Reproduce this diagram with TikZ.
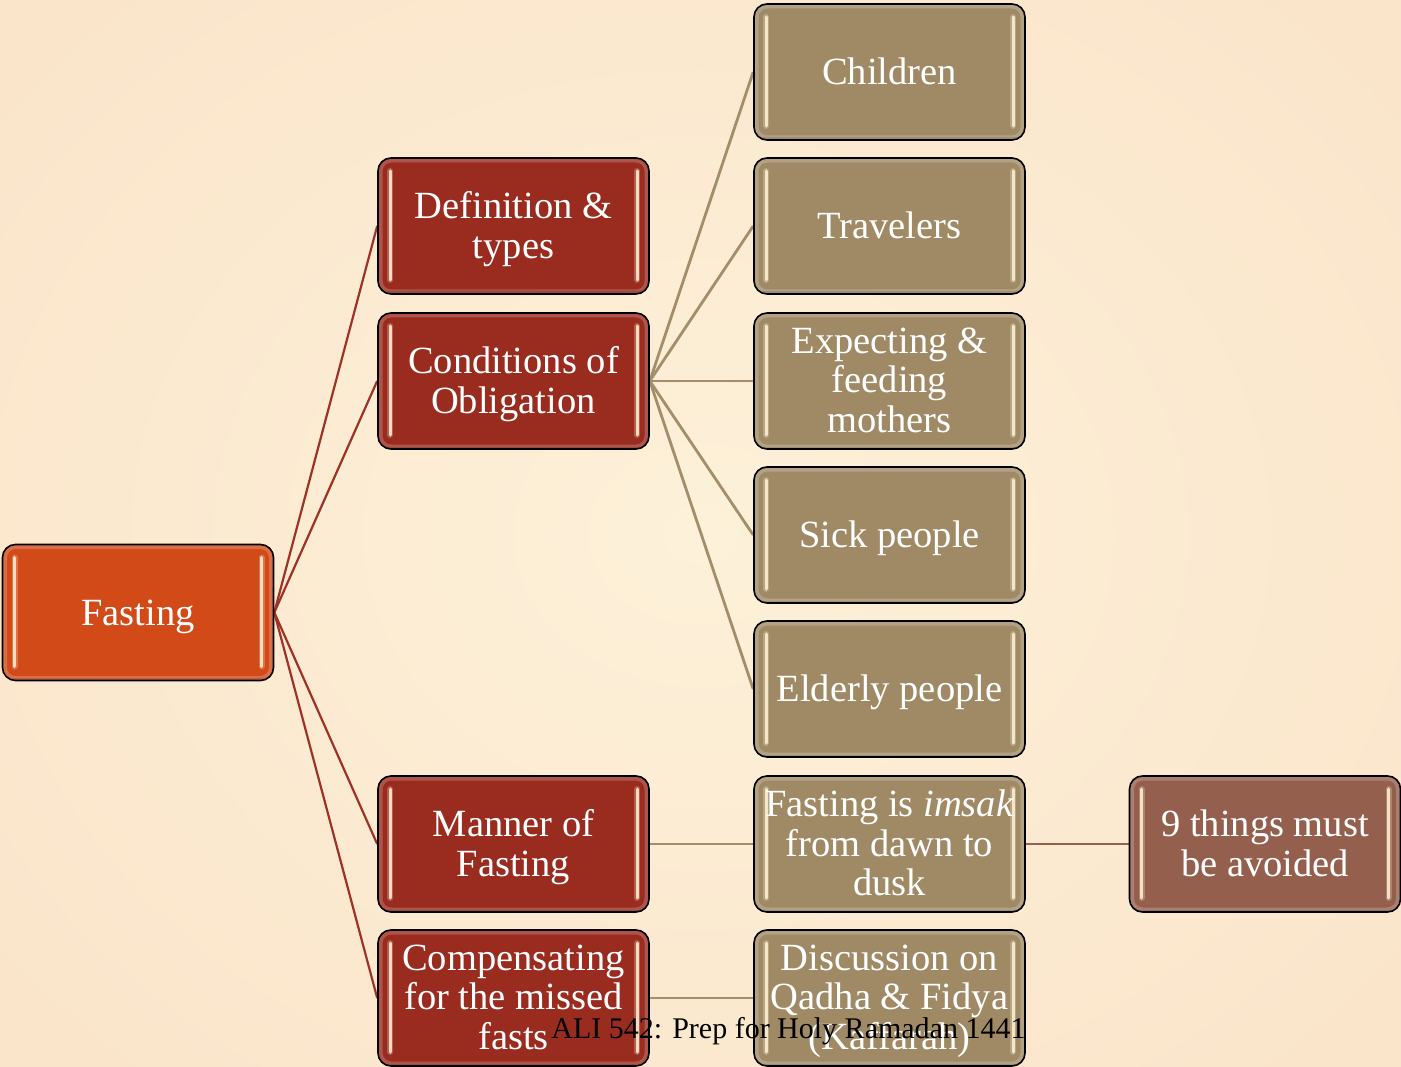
\documentclass[tikz,border=0pt]{standalone}
\usepackage{fontspec}
\setmainfont{Liberation Serif}
\usetikzlibrary{calc}

\definecolor{bgmid}{HTML}{FDF1D9}
\definecolor{bgedge}{HTML}{FAE5CA}
\definecolor{rootfill}{HTML}{D14A18}
\definecolor{redfill}{HTML}{9A2B1F}
\definecolor{tanfill}{HTML}{A08A66}
\definecolor{brownfill}{HTML}{955F4E}
\definecolor{redline}{HTML}{9E3225}
\definecolor{tanline}{HTML}{A48E6A}
\definecolor{brownline}{HTML}{97604F}
\definecolor{gloss}{HTML}{FFF3D6}

\pgfdeclarelayer{backdrop}
\pgfdeclarelayer{links}
\pgfsetlayers{backdrop,links,main}

\tikzset{
  card/.style={draw=black, line width=1.6pt, rounded corners=13pt,
    minimum width=271pt, minimum height=136pt, inner sep=0pt,
    path picture={
      % soft light rim along the inside of the border
      \draw[white, opacity=0.2, line width=9pt, rounded corners=13pt]
        (path picture bounding box.north west) rectangle (path picture bounding box.south east);
      \draw[black, opacity=0.12, line width=5pt]
        (path picture bounding box.south west) -- (path picture bounding box.south east);
      % glossy vertical bars near both sides
      \foreach \s/\d in {west/12, east/-12}{
        \draw[line width=6pt, gloss, opacity=0.25, line cap=round]
          ([xshift=\d pt, yshift=-13pt]path picture bounding box.north \s) --
          ([xshift=\d pt, yshift=14pt]path picture bounding box.south \s);
        \draw[line width=3pt, gloss, opacity=0.85, line cap=round]
          ([xshift=\d pt, yshift=-13pt]path picture bounding box.north \s) --
          ([xshift=\d pt, yshift=14pt]path picture bounding box.south \s);
      }
    }},
  cardtext/.style={text=white, align=center, inner sep=0pt,
    font=\fontsize{38.5}{39.5}\selectfont,
    execute at begin node=\strut, execute at end node=\strut},
  redlink/.style={draw=redline, line width=2.2pt},
  tanlink/.style={draw=tanline, line width=2.8pt},
  brownlink/.style={draw=brownline, line width=2.8pt},
}

% #1 name, #2 fill colour, #3 centre, #4 text
\newcommand\cardnode[4]{%
  \node[card, fill=#2] (#1) at (#3) {};
  \node[cardtext] (#1-label) at ([yshift=-5pt]#1.center) {#4};
}

\begin{document}
\begin{tikzpicture}[x=1pt, y=-1pt]
  \useasboundingbox (0,0) rectangle (1401,1067);
  \begin{pgfonlayer}{backdrop}
    \shade[inner color=bgmid, outer color=bgedge] (-200,-200) rectangle (1601,1267);
  \end{pgfonlayer}

  % boxes
  \cardnode{fasting}{rootfill}{138,612.5}{Fasting}

  \cardnode{def}{redfill}{513.5,226}{Definition \&\\types}
  \cardnode{cond}{redfill}{513.5,381}{Conditions of\\Obligation}
  \cardnode{manner}{redfill}{513.5,844}{Manner of\\Fasting}
  \cardnode{comp}{redfill}{513.5,998}{Compensating\\for the missed\\fasts}

  \cardnode{children}{tanfill}{889.5,72}{Children}
  \cardnode{travel}{tanfill}{889.5,226}{Travelers}
  \cardnode{expect}{tanfill}{889.5,381}{Expecting \&\\feeding\\mothers}
  \cardnode{sick}{tanfill}{889.5,535}{Sick people}
  \cardnode{elder}{tanfill}{889.5,689}{Elderly people}
  \cardnode{imsak}{tanfill}{889.5,844}{Fasting is \textit{imsak}\\from dawn to\\dusk}
  \cardnode{qadha}{tanfill}{889.5,998}{Discussion on\\Qadha \& Fidya\\(Kaffarah)}

  \cardnode{nine}{brownfill}{1265,844}{9 things must\\be avoided}

  % connectors, kept underneath the boxes
  \begin{pgfonlayer}{links}
    \foreach \t in {def, cond, manner, comp}
      \draw[redlink] (fasting.east) -- (\t.west);
    \foreach \t in {children, travel, expect, sick, elder}
      \draw[tanlink] (cond.east) -- (\t.west);
    \draw[tanlink] (manner.east) -- (imsak.west);
    \draw[tanlink] (comp.east) -- (qadha.west);
    \draw[brownlink] (imsak.east) -- (nine.west);
  \end{pgfonlayer}

  % footer
  \node[anchor=base, inner sep=0pt, font=\fontsize{30}{32}\selectfont] (footer)
    at (788.5,1038) {ALI 542: Prep for Holy Ramadan 1441};
\end{tikzpicture}
\end{document}
